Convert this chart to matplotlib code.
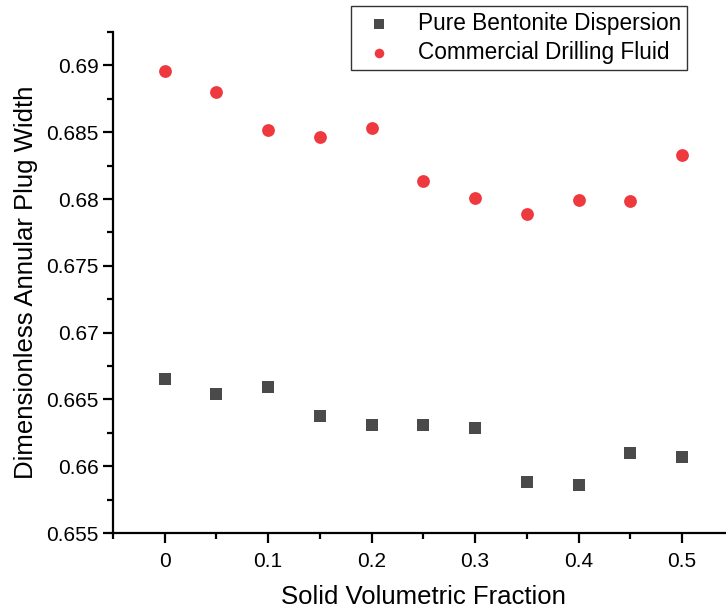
import numpy as np
import matplotlib
matplotlib.use("Agg")
import matplotlib.pyplot as plt
from matplotlib.ticker import MultipleLocator

plt.rcParams.update({
    "font.family": ["Liberation Sans", "DejaVu Sans"],
    "font.size": 13,
})

# ---- data ----
solid_fraction = [0, 0.05, 0.1, 0.15, 0.2, 0.25, 0.3, 0.35, 0.4, 0.45, 0.5]
pure_bentonite = [0.66654, 0.66541, 0.66596, 0.66376, 0.66309, 0.66310,
                  0.66289, 0.65882, 0.65859, 0.66097, 0.66071]
commercial_fluid = [0.68957, 0.68798, 0.68520, 0.68463, 0.68528, 0.68136,
                    0.68010, 0.67888, 0.67993, 0.67988, 0.68330]

fig = plt.figure(figsize=(7.26, 6.13), dpi=100)
ax = fig.add_axes([0.1556, 0.1305, 0.855, 0.8173])

ax.scatter(solid_fraction, pure_bentonite, marker="s", s=80, color="#4a4a4a",
           linewidths=0, label="Pure Bentonite Dispersion")
ax.scatter(solid_fraction, commercial_fluid, marker="o", s=85, color="#ee3a3f",
           linewidths=0, label="Commercial Drilling Fluid")

ax.set_xlim(-0.05, 0.55)
ax.set_ylim(0.655, 0.6925)
ax.xaxis.set_minor_locator(MultipleLocator(0.05))
ax.yaxis.set_minor_locator(MultipleLocator(0.0025))
ax.set_xticks(np.arange(0, 0.51, 0.1))
ax.set_xticklabels(["0", "0.1", "0.2", "0.3", "0.4", "0.5"])
ax.set_yticks(np.arange(0.655, 0.6901, 0.005))
ax.set_yticklabels(["0.655", "0.66", "0.665", "0.67", "0.675", "0.68", "0.685", "0.69"])

for s in ["top", "right"]:
    ax.spines[s].set_visible(False)
for s in ["left", "bottom"]:
    ax.spines[s].set_linewidth(1.6)
ax.tick_params(which="major", direction="out", length=7, width=1.6, labelsize=15)
ax.tick_params(axis="x", which="major", pad=7)
ax.tick_params(which="minor", direction="out", length=4, width=1.6)

ax.set_xlabel("Solid Volumetric Fraction", fontsize=18.5, labelpad=10)
ax.set_ylabel("Dimensionless Annular Plug Width", fontsize=18.5, labelpad=6)

leg = ax.legend(loc="upper right", bbox_to_anchor=(0.924, 1.052), borderaxespad=0,
                fontsize=16.3, frameon=True, fancybox=False, edgecolor="black",
                borderpad=0.25, handletextpad=0.7, labelspacing=0.3, markerscale=0.75)
leg.get_frame().set_linewidth(1.0)

fig.savefig("out.png", dpi=100)
